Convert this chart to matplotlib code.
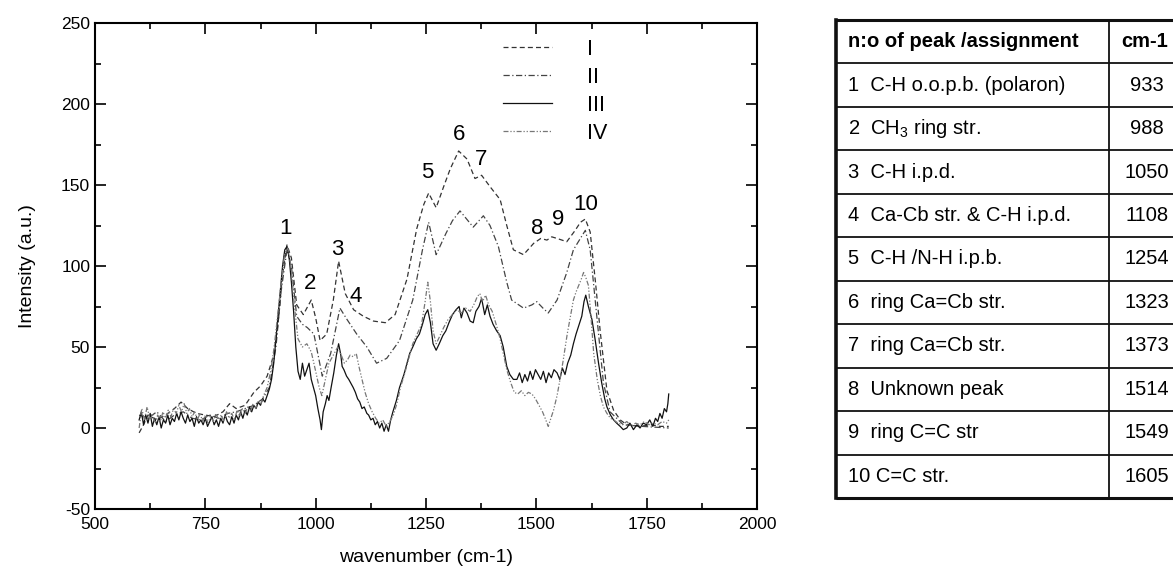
import numpy as np
import matplotlib
matplotlib.use("Agg")
import matplotlib.pyplot as plt
from matplotlib.ticker import MultipleLocator

plt.rcParams['font.family'] = ['Liberation Sans', 'DejaVu Sans']
plt.rcParams['mathtext.fontset'] = 'custom'
plt.rcParams['mathtext.rm'] = 'Liberation Sans'
plt.rcParams['axes.unicode_minus'] = False

# ===== spectra (wavenumber, intensity) =====
x_I = [600, 610, 620, 640, 660, 680, 695, 710, 730, 750, 770, 790, 805, 820, 840, 860, 875, 890,
       905, 915, 925, 935, 945, 957, 972, 990, 1000, 1010, 1025, 1040, 1052, 1067, 1086, 1108,
       1131, 1158, 1180, 1207, 1229, 1245, 1256, 1273, 1290, 1305, 1324, 1343, 1361, 1376, 1395,
       1418, 1433, 1448, 1471, 1494, 1510, 1524, 1535, 1547, 1569, 1588, 1600, 1611, 1622, 1634,
       1645, 1660, 1675, 1690, 1705, 1735, 1760, 1780, 1800]
y_I = [-3, 2, 8, 5, 8, 12, 16, 12, 9, 8, 7, 10, 15, 12, 14, 22, 26, 32,
       45, 65, 95, 113, 105, 76, 70, 79, 68, 54, 58, 79, 103, 83, 73, 69,
       66, 65, 70, 92, 123, 138, 145, 136, 149, 160, 171, 166, 154, 156, 149,
       141, 125, 110, 107, 114, 117, 116, 118, 117, 115, 122, 127, 129, 121, 90,
       59, 23, 11, 5, 2, 1, 2, 1, 1]

x_II = [600, 620, 640, 660, 680, 700, 720, 740, 760, 780, 800, 820, 840, 860, 880, 895, 910,
        922, 935, 945, 957, 970, 981, 996, 1015, 1034, 1055, 1071, 1093, 1116, 1138, 1161, 1190,
        1220, 1242, 1256, 1273, 1295, 1310, 1327, 1345, 1357, 1380, 1395, 1414, 1433, 1444, 1471,
        1490, 1501, 1515, 1527, 1547, 1569, 1584, 1611, 1622, 1637, 1652, 1667, 1697, 1740, 1800]
y_II = [8, 6, 10, 4, 8, 10, 6, 5, 8, 6, 9, 10, 12, 14, 18, 25, 50,
        85, 110, 100, 69, 64, 62, 58, 32, 46, 74, 67, 58, 50, 40, 43, 54,
        79, 110, 127, 107, 120, 128, 134, 128, 124, 131, 125, 112, 90, 79, 74,
        76, 78, 74, 71, 79, 96, 110, 122, 110, 69, 28, 10, 2, 1, 0]

x_III = [600, 605, 610, 615, 620, 625, 630, 635, 640, 645, 650, 655, 660, 665, 670, 675, 680, 685,
         690, 695, 700, 705, 710, 715, 720, 725, 730, 735, 740, 745, 750, 755, 760, 765, 770, 775,
         780, 785, 790, 795, 800, 805, 810, 815, 820, 825, 830, 835, 840, 845, 850, 855, 860, 865,
         870, 875, 880, 885, 890, 895, 900, 905, 910, 915, 920, 925, 930, 935, 940, 945, 950, 955,
         960, 965, 970, 975, 980, 985, 990, 995, 1000, 1005, 1010, 1013, 1017, 1022, 1026, 1030,
         1035, 1041, 1047, 1052, 1057, 1060, 1064, 1070, 1075, 1079, 1085, 1090, 1095, 1100, 1105,
         1110, 1116, 1120, 1125, 1130, 1135, 1140, 1145, 1150, 1155, 1160, 1165, 1170, 1175, 1183,
         1190, 1200, 1213, 1220, 1228, 1235, 1242, 1248, 1254, 1260, 1266, 1273, 1280, 1288, 1295,
         1302, 1310, 1318, 1325, 1330, 1336, 1343, 1350, 1357, 1363, 1370, 1376, 1383, 1389, 1395,
         1402, 1410, 1418, 1425, 1433, 1440, 1448, 1456, 1462, 1468, 1474, 1480, 1486, 1492, 1498,
         1504, 1510, 1516, 1522, 1528, 1534, 1540, 1547, 1553, 1559, 1565, 1571, 1578, 1584, 1590,
         1596, 1603, 1608, 1612, 1618, 1626, 1633, 1641, 1648, 1655, 1660, 1668, 1675, 1682, 1690,
         1697, 1705, 1712, 1720, 1728, 1735, 1742, 1750, 1757, 1764, 1770, 1775, 1780, 1785, 1790,
         1795, 1798, 1800]
y_III = [5, 10, 2, 8, 3, 9, 1, 6, 2, 7, 0, 5, 3, 8, 2, 6, 4, 9,
         5, 10, 6, 3, 8, 4, 6, 1, 7, 3, 5, 2, 6, 1, 4, 7, 2, 5,
         1, 6, 3, 8, 4, 2, 7, 3, 8, 5, 10, 6, 11, 8, 13, 10, 14, 12,
         16, 14, 18, 16, 20, 24, 30, 40, 55, 70, 85, 100, 110, 112, 105, 90, 72, 50,
         35, 30, 40, 32, 36, 40, 30, 25, 20, 12, 5, -1, 10, 15, 20, 17,
         25, 34, 45, 52, 45, 38, 36, 32, 30, 28, 25, 22, 18, 16, 12,
         13, 9, 8, 5, 6, 2, 4, 0, 3, -2, 2, -2, 5, 10, 17,
         25, 33, 46, 50, 55, 58, 64, 70, 73, 65, 52, 48, 52, 57, 60,
         65, 70, 73, 75, 68, 74, 71, 66, 65, 72, 75, 80, 70, 76, 69,
         64, 60, 57, 50, 38, 33, 30, 30, 34, 28, 33, 29, 35, 30, 36,
         33, 30, 35, 28, 34, 31, 36, 34, 30, 37, 33, 40, 45, 52, 58,
         63, 69, 78, 82, 75, 67, 55, 40, 28, 18, 13, 8, 5, 3, 1,
         -1, 0, 3, -1, 2, 0, 3, 2, 5, 1, 6, 4, 9, 6, 12,
         10, 15, 21]

x_IV = [600, 606, 612, 618, 624, 630, 636, 642, 648, 654, 660, 666, 672, 678, 684, 690, 696, 702,
        708, 714, 720, 726, 732, 738, 744, 750, 756, 762, 768, 774, 780, 786, 792, 798, 804, 810,
        816, 822, 828, 834, 840, 846, 852, 858, 864, 870, 876, 882, 890, 898, 906, 914, 922, 930,
        937, 944, 952, 960, 970, 980, 990, 1000, 1008, 1014, 1022, 1030, 1040, 1050, 1058, 1065,
        1072, 1078, 1085, 1092, 1098, 1105, 1112, 1120, 1128, 1136, 1144, 1152, 1160, 1168, 1176,
        1184, 1192, 1200, 1210, 1220, 1230, 1240, 1248, 1254, 1260, 1266, 1273, 1280, 1290, 1300,
        1310, 1320, 1330, 1340, 1350, 1360, 1366, 1372, 1378, 1385, 1392, 1400, 1410, 1418, 1426,
        1433, 1442, 1450, 1458, 1466, 1474, 1482, 1490, 1498, 1506, 1514, 1520, 1527, 1533, 1539,
        1547, 1555, 1561, 1570, 1578, 1584, 1590, 1596, 1602, 1607, 1612, 1618, 1624, 1630, 1638,
        1645, 1652, 1660, 1668, 1675, 1685, 1695, 1705, 1715, 1725, 1735, 1745, 1755, 1765, 1775,
        1785, 1795, 1800]
y_IV = [0, 12, 5, 13, 6, 9, 3, 8, 4, 10, 6, 11, 7, 12, 9, 14, 10, 15,
        9, 12, 7, 10, 5, 9, 4, 8, 3, 7, 4, 9, 5, 8, 4, 10, 6, 9,
        5, 11, 7, 12, 9, 13, 10, 15, 12, 17, 15, 20, 25, 35, 50, 70, 90, 108,
        111, 100, 75, 55, 50, 52, 47, 35, 25, 20, 30, 40, 45, 50, 45, 40,
        42, 45, 44, 46, 38, 30, 22, 15, 10, 6, 3, 5, 1, 4, 8,
        15, 25, 32, 42, 52, 58, 64, 78, 90, 78, 60, 52, 56, 62, 67,
        70, 73, 71, 74, 72, 77, 81, 83, 78, 82, 76, 72, 63, 55, 45,
        36, 28, 22, 21, 23, 20, 22, 21, 18, 14, 10, 6, 1, 6, 11,
        20, 32, 42, 58, 70, 79, 84, 88, 92, 96, 93, 88, 68, 46, 30,
        20, 13, 9, 6, 5, 3, 2, 4, 1, 3, 2, 4, 2, 3, 2,
        4, 3, 5]

series_labels = ["I", "II", "III", "IV"]

# peak numbers and where they sit
peak_nums = ["1", "2", "3", "4", "5", "6", "7", "8", "9", "10"]
peak_x = [931, 987, 1048, 1090, 1252, 1324, 1374, 1501, 1550, 1611]
peak_y = [123, 89, 110, 81, 158, 181, 166, 123, 129, 138]

# table contents
tbl_head = ["n:o of peak /assignment", "cm-1"]
tbl_assign = ["1  C-H o.o.p.b. (polaron)", "2  CH$\\mathregular{_3}$ ring str.", "3  C-H i.p.d.",
              "4  Ca-Cb str. & C-H i.p.d.", "5  C-H /N-H i.p.b.", "6  ring Ca=Cb str.",
              "7  ring Ca=Cb str.", "8  Unknown peak", "9  ring C=C str", "10 C=C str."]
tbl_cm = ["933", "988", "1050", "1108", "1254", "1323", "1373", "1514", "1549", "1605"]

W, H = 1173, 574
fig = plt.figure(figsize=(W / 100, H / 100), dpi=100)
ax = fig.add_axes([95 / W, 1 - 509 / H, 662 / W, 486 / H])

ax.plot(x_I, y_I, color='#333333', lw=0.9, ls=(0, (4, 2.5)), label=series_labels[0])
ax.plot(x_II, y_II, color='#444444', lw=0.9, ls=(0, (5, 2, 1, 2)), label=series_labels[1])
ax.plot(x_III, y_III, color='#111111', lw=0.9, ls='-', label=series_labels[2])
ax.plot(x_IV, y_IV, color='#777777', lw=0.9, ls=(0, (4, 1.5, 1, 1.5, 1, 1.5)), label=series_labels[3])

for s, px, py in zip(peak_nums, peak_x, peak_y):
    ax.text(px, py, s, ha='center', va='center', fontsize=16)

ax.set_xlim(500, 2000)
ax.set_ylim(-50, 250)
ax.xaxis.set_major_locator(MultipleLocator(250))
ax.xaxis.set_minor_locator(MultipleLocator(125))
ax.yaxis.set_major_locator(MultipleLocator(50))
ax.yaxis.set_minor_locator(MultipleLocator(25))
ax.tick_params(which='both', direction='in', top=True, right=True, width=1.2, labelsize=12.5)
ax.tick_params(axis='x', pad=6)
ax.tick_params(which='major', length=8)
ax.tick_params(which='minor', length=4.5)
for sp in ax.spines.values():
    sp.set_linewidth(1.5)
ax.set_xlabel("wavenumber (cm-1)", fontsize=14, labelpad=12)
ax.set_ylabel("Intensity (a.u.)", fontsize=14, labelpad=18)

ax.legend(loc='upper left', bbox_to_anchor=(0.616, 0.968), frameon=False, fontsize=15.5,
          handlelength=2.3, handletextpad=1.6, labelspacing=0.33, borderpad=0, borderaxespad=0)

# ===== table drawn on an overlay in pixel units =====
tx = fig.add_axes([0, 0, 1, 1])
tx.set_xlim(0, W)
tx.set_ylim(H, 0)
tx.axis('off')

t_left, t_mid, t_right = 836, 1109, 1200
t_top, t_bot = 20, 498
n_rows = len(tbl_cm) + 1
row_h = (t_bot - t_top) / n_rows
edges = [t_top + i * row_h for i in range(n_rows + 1)]

for i, yy in enumerate(edges):
    lw = 2.2 if i in (0, n_rows) else 1.3
    tx.plot([t_left, t_right], [yy, yy], color='#111111', lw=lw, solid_capstyle='butt')
tx.plot([t_left, t_left], [t_top, t_bot], color='#111111', lw=2.6)
tx.plot([t_mid, t_mid], [t_top, t_bot], color='#111111', lw=1.3)

fs_tbl = 14.5
tx.text(t_left + 12, edges[0] + row_h / 2, tbl_head[0], ha='left', va='center',
        fontsize=fs_tbl, fontweight='bold')
tx.text(1145, edges[0] + row_h / 2, tbl_head[1], ha='center', va='center',
        fontsize=fs_tbl, fontweight='bold')
for i, (a, c) in enumerate(zip(tbl_assign, tbl_cm)):
    yc = edges[i + 1] + row_h / 2
    tx.text(t_left + 12, yc, a, ha='left', va='center', fontsize=fs_tbl)
    tx.text(1147, yc, c, ha='center', va='center', fontsize=fs_tbl)

fig.savefig("out.png", dpi=100)
